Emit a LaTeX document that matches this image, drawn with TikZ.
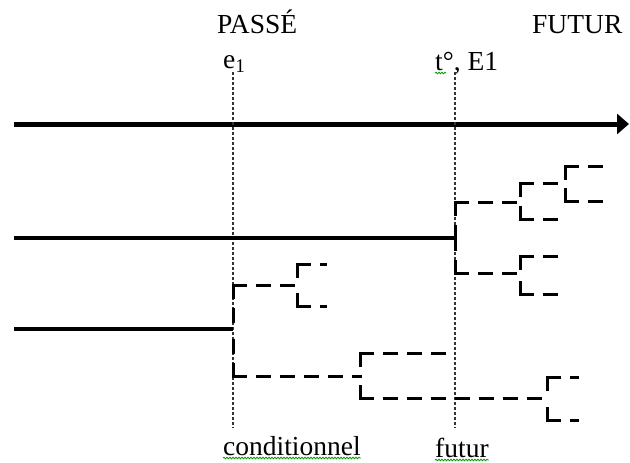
\documentclass[tikz,border=0pt]{standalone}
\usepackage{fontspec}
\setmainfont{Liberation Serif}
\usetikzlibrary{arrows.meta,decorations.pathmorphing}

\begin{document}
\begin{tikzpicture}[x=1pt,y=-1pt,
	every node/.style={inner sep=0pt,anchor=base west,font=\fontsize{27.5}{30}\selectfont},
	axe/.style={line width=5pt,-{Triangle[length=12pt,width=20pt]}},
	ligne/.style={line width=3.5pt},
	branche/.style={line width=3pt,line cap=rect,dash pattern=on 12pt off 12pt},
	repere/.style={line width=2.6pt,black!80,dash pattern=on 2.6pt off 2.4pt},
	faute/.style={green!60!black,line width=0.8pt,decorate,
		decoration={snake,amplitude=0.8pt,segment length=3pt}}]
	\useasboundingbox (0,0) rectangle (630,463);
	% textes
	\node (passe) at (217,33) {PASSÉ};
	\node (futur) at (532,33) {FUTUR};
	\node (e1) at (223,68) {e\textsubscript{1}};
	\node (t0) at (435,70) {t°, E1};
	\node (cond) at (223,455) {conditionnel};
	\node (fut) at (435,457) {futur};
	% axe du temps
	\coordinate (debut) at (14,124);
	\coordinate (fin) at (629,124);
	\draw[axe] (debut) -- (fin);
	% reperes
	\coordinate (r1) at (233,72);
	\coordinate (r1') at (233,428);
	\coordinate (r2) at (455,72);
	\coordinate (r2') at (455,428);
	\draw[repere] (r1) -- (r1');
	\draw[repere] (r2) -- (r2');
	% lignes pleines
	\coordinate (a) at (14,238);
	\coordinate (b) at (14,329);
	\coordinate (f1) at (455,238);
	\coordinate (g1) at (233,329);
	\draw[ligne] (a) -- (f1);
	\draw[ligne] (b) -- (g1);
	% embranchements
	\foreach \n/\x/\m/\h/\b/\eh/\eb in {
		f1/455/238/202/273/520/520,
		f2/520/202/183/219/565/560,
		f3/565/183/166/201/605/605,
		f4/520/273/256/294/560/560,
		g1/233/329/285/376/297/360,
		g2/297/285/264/306/325/325,
		g3/360/376/353/398/447/547,
		g4/547/398/377/420/577/577}{
		\coordinate (\n-m) at (\x,\m);
		\coordinate (\n-h) at (\x,\h);
		\coordinate (\n-b) at (\x,\b);
		\coordinate (\n-he) at (\eh,\h);
		\coordinate (\n-be) at (\eb,\b);
		\draw[branche] (\n-h) -- (\n-m);
		\draw[branche] (\n-h) -- (\n-he);
		\draw[branche] (\n-b) -- (\n-m);
		\draw[branche] (\n-b) -- (\n-be);
	}
	% soulignements
	\draw[faute] ([yshift=-3pt]cond.base west) -- ([yshift=-3pt]cond.base east);
	\draw[faute] ([yshift=-3pt]fut.base west) -- ([yshift=-3pt]fut.base east);
	\draw[faute] ([yshift=-3pt]t0.base west) -- ++(11,0);
\end{tikzpicture}
\end{document}
